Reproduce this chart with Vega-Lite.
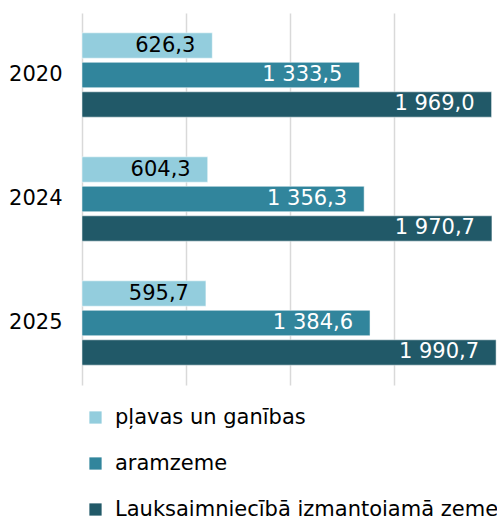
{
  "$schema": "https://vega.github.io/schema/vega-lite/v6.json",
  "autosize": {"type": "none"},
  "width": 415,
  "height": 372,
  "padding": {"left": 82, "top": 13, "right": 0, "bottom": 131},
  "background": "white",
  "config": {
    "locale": {"number": {"decimal": ",", "thousands": " ", "grouping": [3], "currency": ["", ""]}},
    "font": "DejaVu Sans",
    "view": {"stroke": null}
  },
  "data": {
    "values": [
      {"year": "2020", "s": "pļavas un ganības", "v": 626.3},
      {"year": "2020", "s": "aramzeme", "v": 1333.5},
      {"year": "2020", "s": "Lauksaimniecībā izmantojamā zeme", "v": 1969.0},
      {"year": "2024", "s": "pļavas un ganības", "v": 604.3},
      {"year": "2024", "s": "aramzeme", "v": 1356.3},
      {"year": "2024", "s": "Lauksaimniecībā izmantojamā zeme", "v": 1970.7},
      {"year": "2025", "s": "pļavas un ganības", "v": 595.7},
      {"year": "2025", "s": "aramzeme", "v": 1384.6},
      {"year": "2025", "s": "Lauksaimniecībā izmantojamā zeme", "v": 1990.7}
    ]
  },
  "encoding": {
    "y": {
      "field": "year", "type": "nominal",
      "scale": {"paddingInner": 0.32, "paddingOuter": 0.16},
      "axis": {"title": null, "ticks": false, "domain": false, "labelPadding": 20, "labelFontSize": 21, "labelColor": "black", "labelFont": "DejaVu Sans"}
    },
    "yOffset": {
      "field": "s", "type": "nominal",
      "sort": ["pļavas un ganības", "aramzeme", "Lauksaimniecībā izmantojamā zeme"],
      "scale": {"paddingInner": 0.14, "paddingOuter": 0}
    },
    "x": {
      "field": "v", "type": "quantitative",
      "scale": {"domain": [0, 1995], "nice": false, "zero": true},
      "axis": {"title": null, "labels": false, "ticks": false, "domain": false, "values": [0, 500, 1000, 1500], "grid": true, "gridColor": "#d9d9d9", "gridWidth": 1.5}
    }
  },
  "layer": [
    {
      "mark": {"type": "bar", "stroke": "white", "strokeWidth": 0.5},
      "encoding": {
        "color": {
          "field": "s", "type": "nominal",
          "scale": {"domain": ["pļavas un ganības", "aramzeme", "Lauksaimniecībā izmantojamā zeme"], "range": ["#93cddd", "#31859c", "#215968"]},
          "legend": {
            "title": null, "orient": "none", "direction": "vertical",
            "legendX": 3, "legendY": 394,
            "symbolType": "square", "symbolSize": 150, "symbolStrokeWidth": 0,
            "labelFontSize": 21, "labelColor": "black", "labelFont": "DejaVu Sans",
            "labelOffset": 9, "rowPadding": 24, "labelLimit": 1000
          }
        }
      }
    },
    {
      "mark": {"type": "text", "align": "right", "baseline": "middle", "dx": -17, "fontSize": 21, "font": "DejaVu Sans"},
      "encoding": {
        "text": {"field": "v", "type": "quantitative", "format": ",.1f"},
        "color": {"condition": {"test": "datum.s === 'pļavas un ganības'", "value": "black"}, "value": "white"}
      }
    }
  ]
}
